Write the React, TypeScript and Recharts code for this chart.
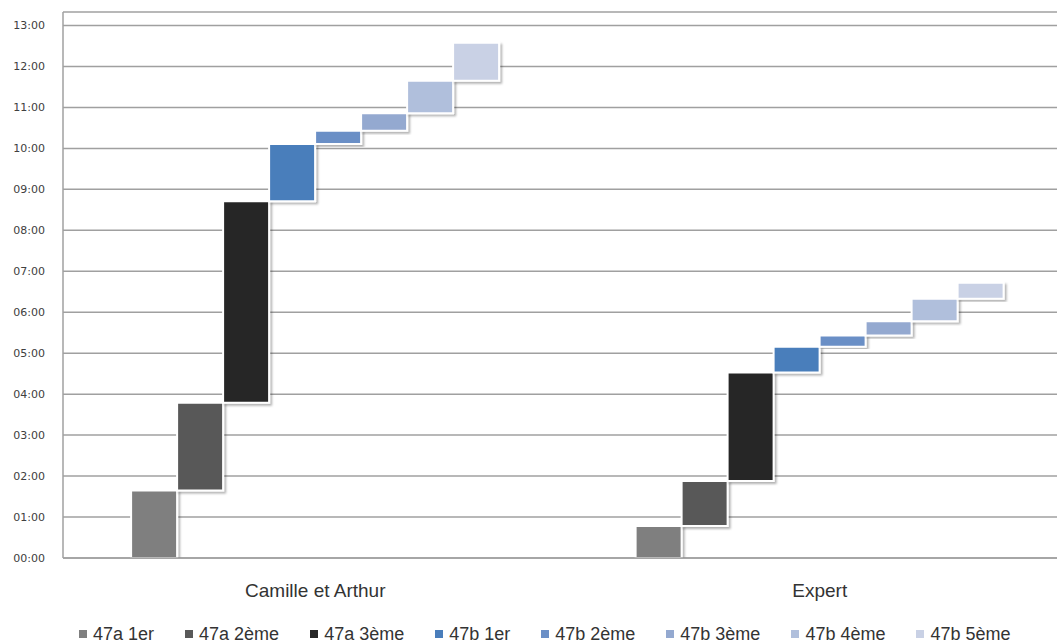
import React from "react";
import { BarChart, Bar, XAxis, YAxis, CartesianGrid, Legend } from "recharts";

// finishing times (hours), one per stage
const categories = ["Camille et Arthur", "Expert"];
const stageNames = ["47a 1er", "47a 2ème", "47a 3ème", "47b 1er", "47b 2ème", "47b 3ème", "47b 4ème", "47b 5ème"];
const camilleEnds = [1.65, 3.79, 8.71, 10.11, 10.43, 10.86, 11.65, 12.58];
const expertEnds = [0.78, 1.88, 4.53, 5.16, 5.43, 5.78, 6.33, 6.72];
const hourTicks = [0, 1, 2, 3, 4, 5, 6, 7, 8, 9, 10, 11, 12, 13];

const stageColors = ["#7f7f7f", "#595959", "#262626", "#4a7ebb", "#6b8fc6", "#94a9d0", "#b0bfdc", "#c9d1e5"];

const endsByCategory = [camilleEnds, expertEnds];

// each stage is a floating bar from the previous finish to its own finish
const data = categories.map((name, ci) => {
  const ends = endsByCategory[ci];
  const row: Record<string, any> = { name };
  ends.forEach((e, i) => {
    row["s" + i] = [i === 0 ? 0 : ends[i - 1], e];
  });
  return row;
});

const fmtHour = (h: number) => String(h).padStart(2, "0") + ":00";

function LegendBox() {
  return (
    <div
      style={{
        display: "flex",
        alignItems: "center",
        paddingTop: 16,
        fontFamily: "'Liberation Sans', Arial, sans-serif",
        fontSize: 18,
        lineHeight: "20px",
        color: "#333",
      }}
    >
      {stageNames.map((n, i) => (
        <div key={n} style={{ display: "flex", alignItems: "center", marginRight: 31 }}>
          <span style={{ display: "inline-block", width: 8, height: 8, background: stageColors[i], marginRight: 6 }} />
          <span>{n}</span>
        </div>
      ))}
    </div>
  );
}

export default function App() {
  return (
    <div style={{ position: "absolute", left: 0, top: 0, width: 1057, height: 644, overflow: "hidden", background: "#fff" }}>
      <BarChart
        width={1072}
        height={644}
        data={data}
        margin={{ top: 12, right: 0, left: 0, bottom: 0 }}
        barCategoryGap="13.5%"
        barGap={0}
      >
        <defs>
          <filter id="barShadow" x="-20%" y="-20%" width="140%" height="140%">
            <feDropShadow dx="2" dy="2" stdDeviation="1.2" floodColor="#000" floodOpacity="0.3" />
          </filter>
        </defs>
        <CartesianGrid vertical={false} stroke="#a0a0a0" strokeWidth={1.5} />
        <XAxis
          dataKey="name"
          height={50}
          tickLine={false}
          axisLine={{ stroke: "#a0a0a0", strokeWidth: 1.5 }}
          tickMargin={20}
          tick={{ fill: "#333", fontSize: 19, fontFamily: "'Liberation Sans', Arial, sans-serif" }}
        />
        <YAxis
          width={63}
          domain={[0, 13.33]}
          ticks={hourTicks}
          tickFormatter={fmtHour}
          tickLine={false}
          tickMargin={12}
          axisLine={{ stroke: "#a0a0a0", strokeWidth: 1.5 }}
          tick={{ fill: "#404040", fontSize: 11, fontFamily: "'DejaVu Sans', Verdana, sans-serif" }}
          allowDataOverflow
        />
        <Legend
          verticalAlign="bottom"
          height={36}
          content={() => <LegendBox />}
          wrapperStyle={{ left: 79, width: "auto", bottom: 0, height: 36 }}
        />
        {stageNames.map((n, i) => (
          <Bar
            key={n}
            dataKey={"s" + i}
            name={n}
            fill={stageColors[i]}
            stroke="#ffffff"
            strokeWidth={2}
            filter="url(#barShadow)"
            isAnimationActive={false}
          />
        ))}
      </BarChart>
    </div>
  );
}
